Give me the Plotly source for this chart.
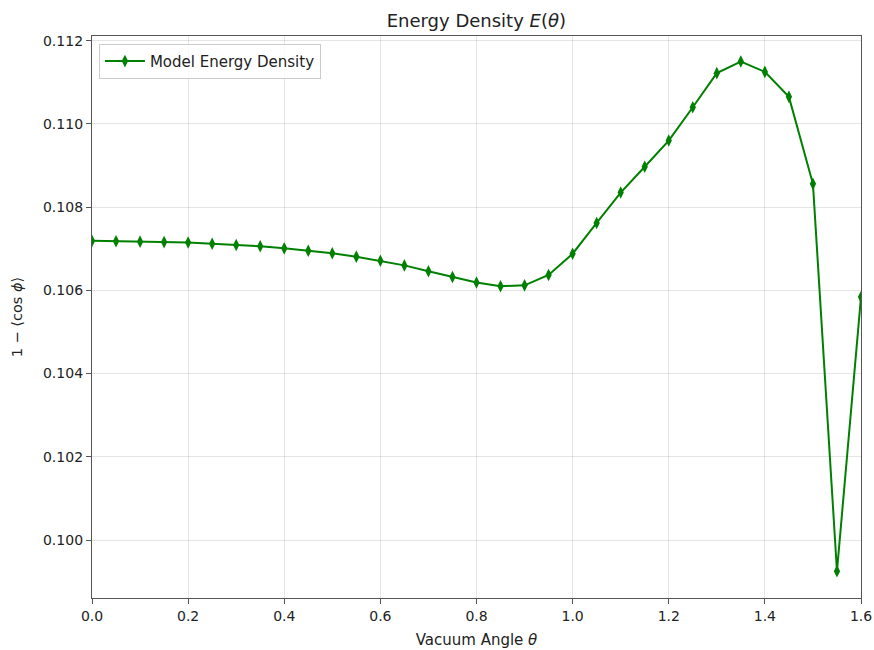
import plotly.graph_objects as go

theta = [0.0, 0.05, 0.1, 0.15, 0.2, 0.25, 0.3, 0.35, 0.4, 0.45, 0.5, 0.55, 0.6, 0.65, 0.7,
         0.75, 0.8, 0.85, 0.9, 0.95, 1.0, 1.05, 1.1, 1.15, 1.2, 1.25, 1.3, 1.35, 1.4, 1.45,
         1.5, 1.55, 1.6]
energy = [0.10719, 0.10718, 0.10717, 0.10716, 0.10715, 0.10712, 0.10709, 0.10706, 0.10701,
          0.10695, 0.10689, 0.10681, 0.10671, 0.10660, 0.10646, 0.10632, 0.10619, 0.10610,
          0.10612, 0.10637, 0.10688, 0.10762, 0.10835, 0.10897, 0.10960, 0.11040, 0.11122,
          0.11150, 0.11125, 0.11065, 0.10856, 0.09925, 0.10584]
x_ticks = [0.0, 0.2, 0.4, 0.6, 0.8, 1.0, 1.2, 1.4, 1.6]
y_ticks = [0.100, 0.102, 0.104, 0.106, 0.108, 0.110, 0.112]

font = "DejaVu Sans"
fig = go.Figure()
fig.add_trace(go.Scatter(
    x=theta, y=energy, mode="lines+markers", name="Model Energy Density",
    line=dict(color="#008000", width=2),
    marker=dict(symbol="diamond-tall", size=9, color="#008000"),
))

axis_common = dict(
    showline=True, linecolor="#555555", linewidth=1.3, mirror=True,
    ticks="outside", ticklen=5, tickcolor="#555555", tickwidth=1,
    showgrid=True, gridcolor="rgba(0,0,0,0.1)", gridwidth=1, zeroline=False,
    tickfont=dict(family=font, size=14, color="#222222"), automargin=False,
)
fig.update_xaxes(range=[0.0, 1.6], tickvals=x_ticks, ticktext=[f"{v:.1f}" for v in x_ticks],
                 title=dict(text="Vacuum Angle <i>θ</i>", font=dict(family=font, size=15, color="#222222"), standoff=11),
                 **axis_common)
fig.update_yaxes(range=[0.098606, 0.112113], tickvals=y_ticks, ticktext=[f"{v:.3f}" for v in y_ticks],
                 title=dict(text="1 − ⟨cos <i>ϕ</i>⟩", font=dict(family=font, size=14.5, color="#222222"), standoff=16),
                 **axis_common)
fig.update_layout(
    width=874, height=650,
    margin=dict(l=92, r=13, t=36, b=52),
    paper_bgcolor="white", plot_bgcolor="white",
    title=dict(text="Energy Density <i>E</i>(<i>θ</i>)", x=0.545, xanchor="center", y=1 - 21 / 650, yanchor="middle",
               font=dict(family=font, size=18, color="#222222")),
    legend=dict(x=0.009, y=0.986, xanchor="left", yanchor="top", itemwidth=40,
                bgcolor="rgba(255,255,255,0.8)", bordercolor="#cccccc", borderwidth=1,
                font=dict(family=font, size=15, color="#222222")),
    showlegend=True,
)
fig.write_html("out.html", config={"displayModeBar": False},
               post_script="document.body.style.margin='0';document.body.style.overflow='hidden';")
